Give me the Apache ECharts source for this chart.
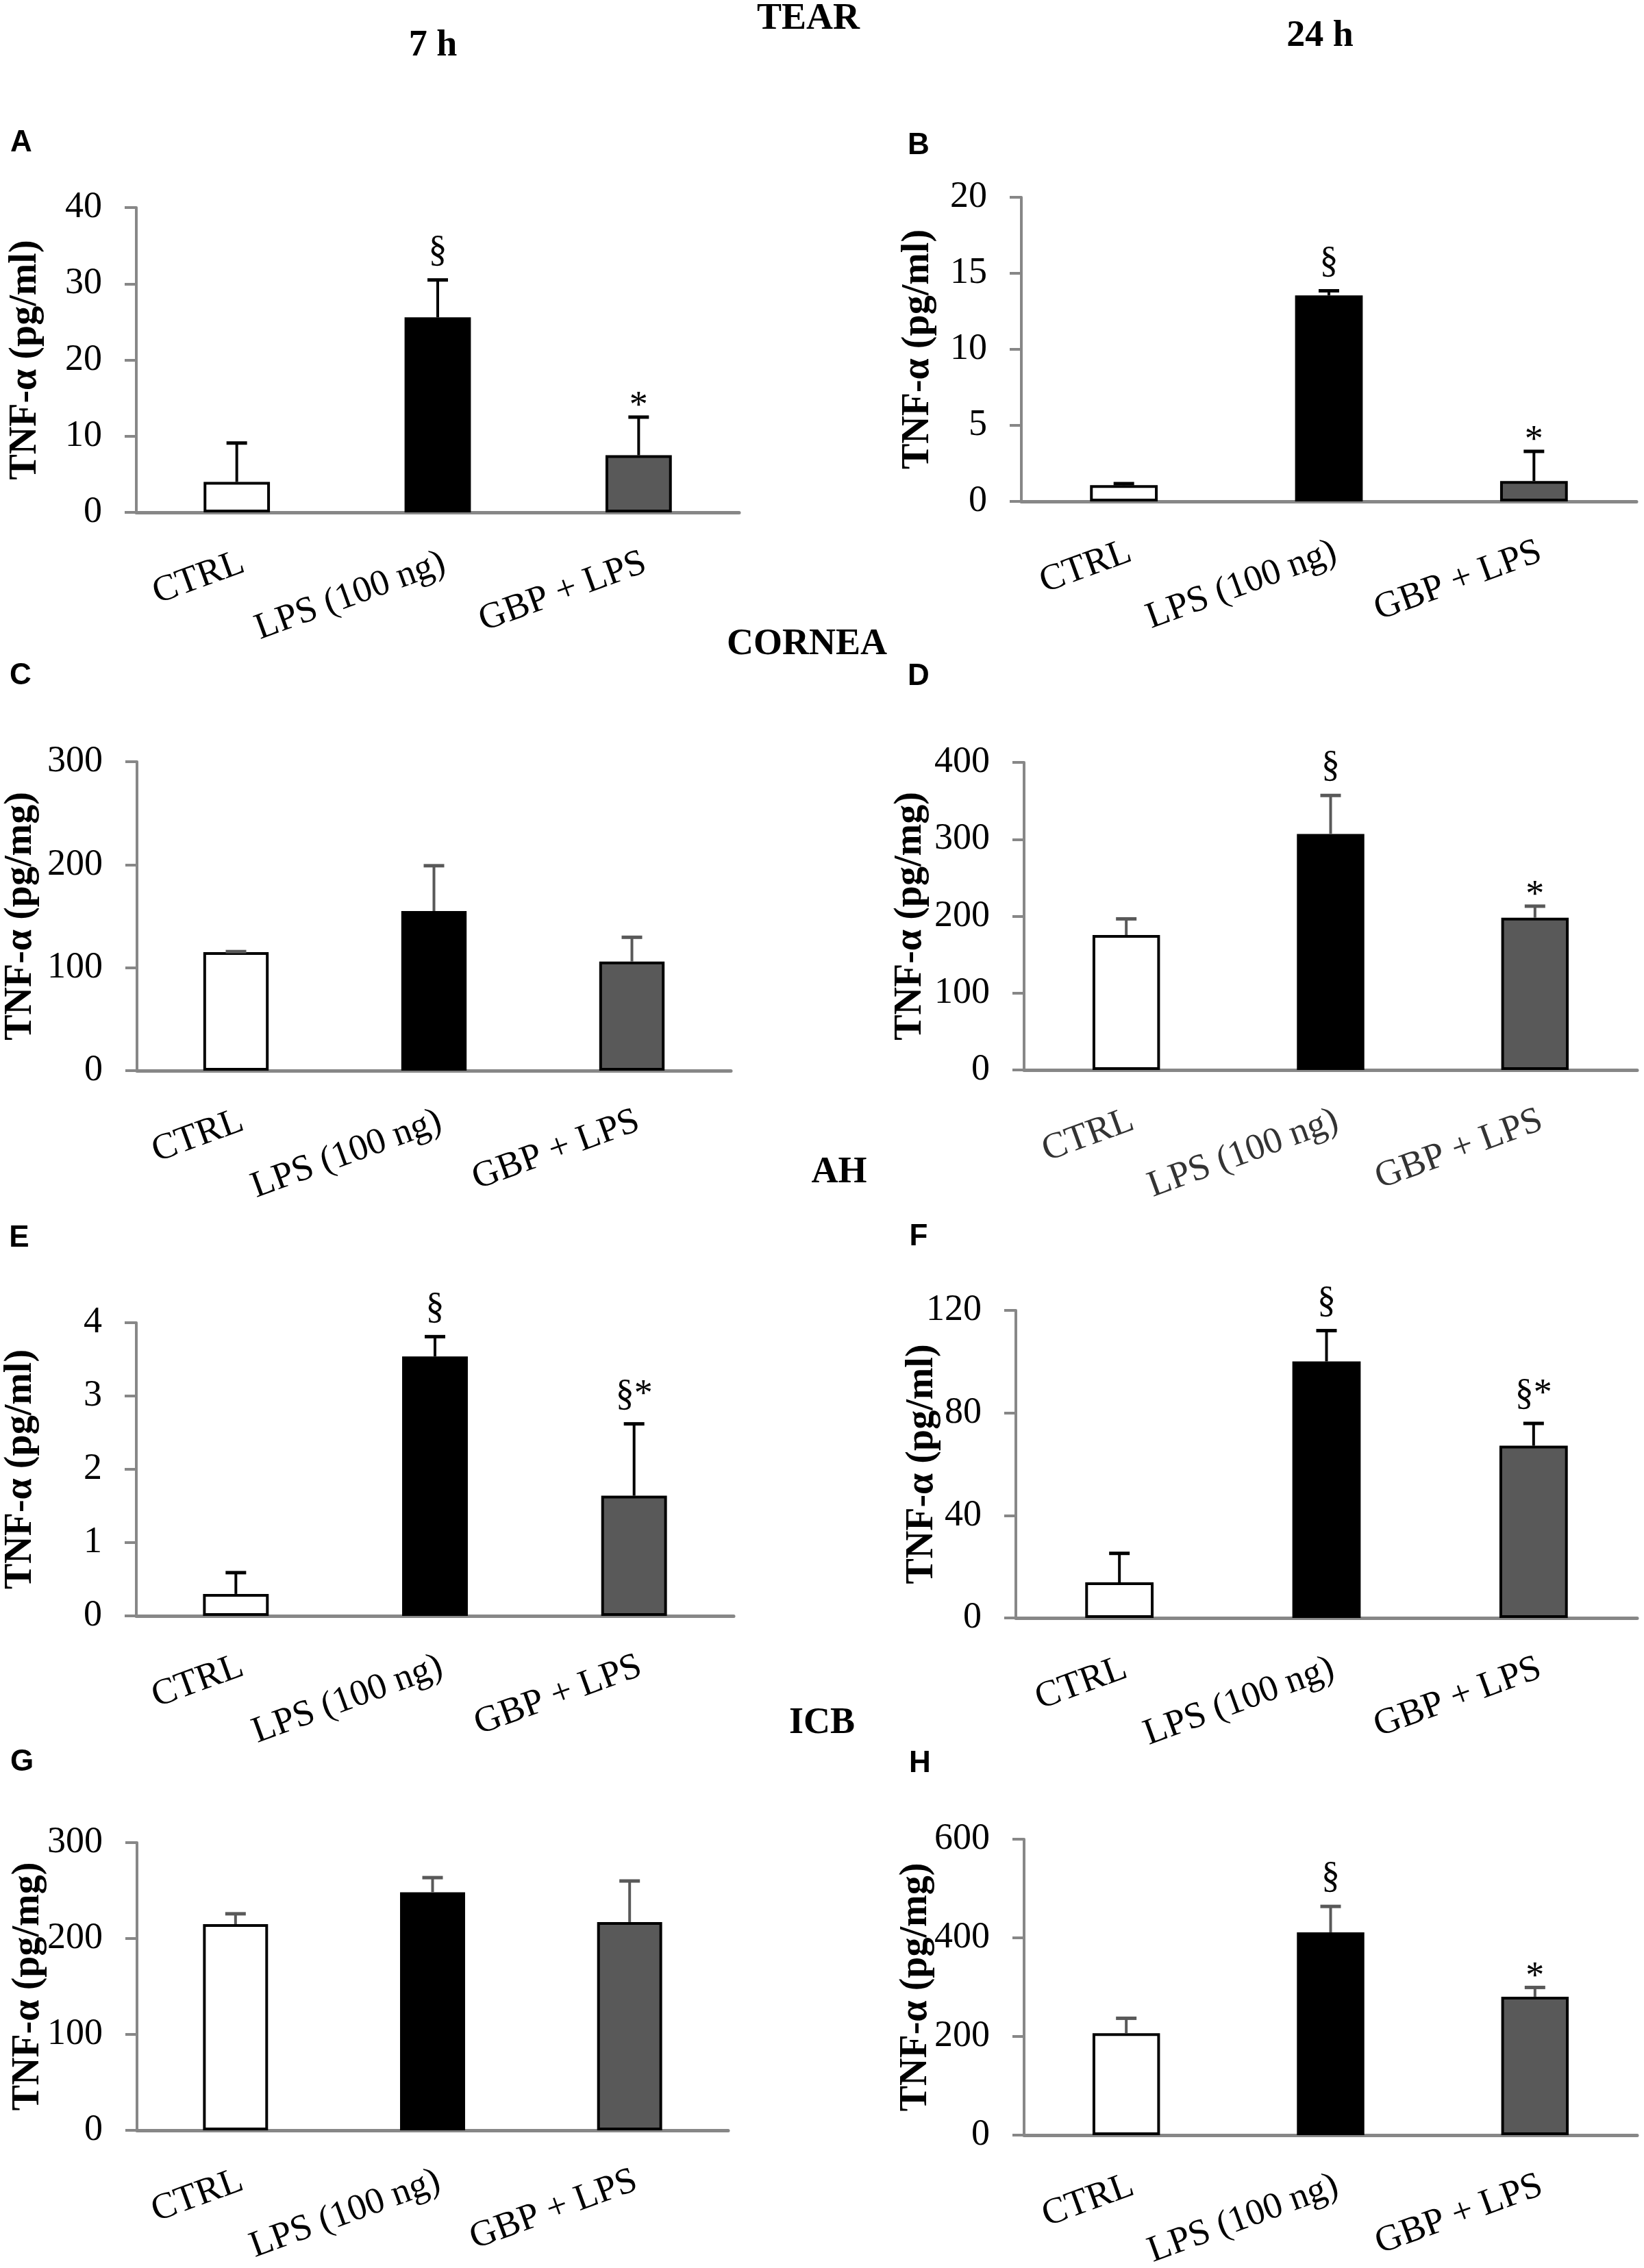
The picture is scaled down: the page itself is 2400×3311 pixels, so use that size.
<!DOCTYPE html>
<html>
<head>
<meta charset="utf-8">
<script src="https://cdn.jsdelivr.net/npm/echarts@6/dist/echarts.min.js"></script>
<style>
  html, body { margin: 0; padding: 0; background: #fff; }
  #chart { width: 2400px; height: 3311px; }
</style>
</head>
<body>
<div id="chart"></div>
<script>
  var groups = ['CTRL', 'LPS (100 ng)', 'GBP + LPS']

  // TEAR
  var tear7hMean = [4.0, 25.6, 7.5]
  var tear7hSem = [5.1, 4.9, 5.0]
  var tear7hMarks = ['', '§', '*']
  var tear7hTicks = [0, 10, 20, 30, 40]

  var tear24hMean = [1.07, 13.55, 1.34]
  var tear24hSem = [0.1, 0.3, 1.95]
  var tear24hMarks = ['', '§', '*']
  var tear24hTicks = [0, 5, 10, 15, 20]

  // CORNEA
  var cornea7hMean = [115, 155, 106]
  var cornea7hSem = [0.6, 44, 23.5]
  var cornea7hMarks = ['', '', '']
  var cornea7hTicks = [0, 100, 200, 300]

  var cornea24hMean = [175.5, 307, 198]
  var cornea24hSem = [21, 50, 15]
  var cornea24hMarks = ['', '§', '*']
  var cornea24hTicks = [0, 100, 200, 300, 400]

  // AH
  var ah7hMean = [0.3, 3.54, 1.64]
  var ah7hSem = [0.29, 0.27, 0.98]
  var ah7hMarks = ['', '§', '§*']
  var ah7hTicks = [0, 1, 2, 3, 4]

  var ah24hMean = [13.9, 100.1, 67.2]
  var ah24hSem = [11.3, 12, 8.7]
  var ah24hMarks = ['', '§', '§*']
  var ah24hTicks = [0, 40, 80, 120]

  // ICB
  var icb7hMean = [215, 248.3, 217.2]
  var icb7hSem = [10.8, 15.2, 42.8]
  var icb7hMarks = ['', '', '']
  var icb7hTicks = [0, 100, 200, 300]

  var icb24hMean = [206.7, 411, 280.7]
  var icb24hSem = [30.2, 52.7, 18.7]
  var icb24hMarks = ['', '§', '*']
  var icb24hTicks = [0, 200, 400, 600]

  var SERIF = '"Liberation Serif", "Times New Roman", serif'
  var SANS = '"Liberation Sans", Arial, sans-serif'
  var AXIS_GREY = '#878787'
  var barColors = ['#ffffff', '#000000', '#595959']

  var panels = [
    { mean: tear7hMean, sem: tear7hSem, marks: tear7hMarks, ticks: tear7hTicks, unit: 'TNF-α (pg/ml)',
      left: 199, top: 303, width: 880, height: 445, nameGap: 133, errColor: '#000', labelColor: '#000' },
    { mean: tear24hMean, sem: tear24hSem, marks: tear24hMarks, ticks: tear24hTicks, unit: 'TNF-α (pg/ml)',
      left: 1491, top: 288, width: 898, height: 444, nameGap: 122, errColor: '#000', labelColor: '#000' },
    { mean: cornea7hMean, sem: cornea7hSem, marks: cornea7hMarks, ticks: cornea7hTicks, unit: 'TNF-α (pg/mg)',
      left: 200, top: 1112, width: 867, height: 451, nameGap: 141, errColor: '#595959', labelColor: '#000' },
    { mean: cornea24hMean, sem: cornea24hSem, marks: cornea24hMarks, ticks: cornea24hTicks, unit: 'TNF-α (pg/mg)',
      left: 1495, top: 1113, width: 895, height: 449, nameGap: 137, errColor: '#595959', labelColor: '#333' },
    { mean: ah7hMean, sem: ah7hSem, marks: ah7hMarks, ticks: ah7hTicks, unit: 'TNF-α (pg/ml)',
      left: 199, top: 1931, width: 872, height: 428, nameGap: 140, errColor: '#000', labelColor: '#000' },
    { mean: ah24hMean, sem: ah24hSem, marks: ah24hMarks, ticks: ah24hTicks, unit: 'TNF-α (pg/ml)',
      left: 1483, top: 1913, width: 907, height: 449, nameGap: 108, errColor: '#000', labelColor: '#000' },
    { mean: icb7hMean, sem: icb7hSem, marks: icb7hMarks, ticks: icb7hTicks, unit: 'TNF-α (pg/mg)',
      left: 200, top: 2690, width: 863, height: 420, nameGap: 130, errColor: '#595959', labelColor: '#000' },
    { mean: icb24hMean, sem: icb24hSem, marks: icb24hMarks, ticks: icb24hTicks, unit: 'TNF-α (pg/mg)',
      left: 1495, top: 2685, width: 895, height: 432, nameGap: 129, errColor: '#595959', labelColor: '#000' }
  ]

  // section titles and panel letters
  var headings = [
    { text: 'TEAR', x: 1180, y: 28, font: 'bold 54px ' + SERIF },
    { text: '7 h', x: 632, y: 67, font: 'bold 54px ' + SERIF },
    { text: '24 h', x: 1927, y: 53, font: 'bold 54px ' + SERIF },
    { text: 'CORNEA', x: 1178, y: 941, font: 'bold 54px ' + SERIF },
    { text: 'AH', x: 1225, y: 1712, font: 'bold 54px ' + SERIF },
    { text: 'ICB', x: 1200, y: 2516, font: 'bold 54px ' + SERIF },
    { text: 'A', x: 31, y: 209, font: 'bold 44px ' + SANS },
    { text: 'B', x: 1341, y: 213, font: 'bold 44px ' + SANS },
    { text: 'C', x: 30, y: 987, font: 'bold 44px ' + SANS },
    { text: 'D', x: 1341, y: 988, font: 'bold 44px ' + SANS },
    { text: 'E', x: 28, y: 1808, font: 'bold 44px ' + SANS },
    { text: 'F', x: 1341, y: 1806, font: 'bold 44px ' + SANS },
    { text: 'G', x: 32, y: 2573, font: 'bold 44px ' + SANS },
    { text: 'H', x: 1343, y: 2575, font: 'bold 44px ' + SANS }
  ]

  var errorRenderer = function (marks, color) {
    return function (params, api) {
      var i = api.value(0)
      var base = api.coord([i, api.value(1)])
      var tip = api.coord([i, api.value(2)])
      var children = [
        { type: 'line', shape: { x1: base[0], y1: base[1], x2: tip[0], y2: tip[1] }, style: { stroke: color, lineWidth: 4 } },
        { type: 'line', shape: { x1: tip[0] - 15, y1: tip[1], x2: tip[0] + 15, y2: tip[1] }, style: { stroke: color, lineWidth: 5 } }
      ]
      var mark = marks[params.dataIndex]
      if (mark) {
        children.push({
          type: 'text',
          x: tip[0],
          y: tip[1] - (mark === '*' ? 15 : 42),
          style: { text: mark, font: '54px ' + SERIF, fill: '#000', align: 'center', verticalAlign: 'middle' }
        })
      }
      return { type: 'group', children: children }
    }
  }

  var grid = [], xAxis = [], yAxis = [], series = []

  panels.forEach(function (p, k) {
    grid.push({ left: p.left, top: p.top, width: p.width, height: p.height, containLabel: false, outerBoundsMode: 'none' })

    xAxis.push({
      type: 'category',
      gridIndex: k,
      data: groups,
      axisTick: { show: false },
      axisLine: { lineStyle: { color: AXIS_GREY, width: 5 } },
      axisLabel: {
        interval: 0,
        rotate: 20,
        align: 'right',
        verticalAlign: 'top',
        margin: 47,
        fontFamily: SERIF,
        fontSize: 54,
        color: p.labelColor
      }
    })

    yAxis.push({
      type: 'value',
      gridIndex: k,
      min: p.ticks[0],
      max: p.ticks[p.ticks.length - 1],
      interval: p.ticks[1] - p.ticks[0],
      name: p.unit,
      nameLocation: 'middle',
      nameRotate: 90,
      nameGap: p.nameGap,
      nameMoveOverlap: false,
      nameTextStyle: { fontFamily: SERIF, fontWeight: 'bold', fontSize: 56, color: '#000' },
      splitLine: { show: false },
      axisLine: { show: true, lineStyle: { color: AXIS_GREY, width: 4 } },
      axisTick: { show: true, length: 17, lineStyle: { color: AXIS_GREY, width: 4 } },
      axisLabel: { margin: 50, fontFamily: SERIF, fontSize: 54, color: '#000' }
    })

    series.push({
      type: 'bar',
      xAxisIndex: k,
      yAxisIndex: k,
      barWidth: '33%',
      silent: true,
      data: p.mean.map(function (v, i) {
        return { value: v, itemStyle: { color: barColors[i], borderColor: '#000', borderWidth: 4 } }
      })
    })

    series.push({
      type: 'custom',
      xAxisIndex: k,
      yAxisIndex: k,
      silent: true,
      z: 5,
      renderItem: errorRenderer(p.marks, p.errColor),
      encode: { x: 0, y: [1, 2] },
      data: p.mean.map(function (v, i) {
        return [i, v, v + p.sem[i]]
      })
    })
  })

  var chart = echarts.init(document.getElementById('chart'), null, { renderer: 'canvas' })
  chart.setOption({
    backgroundColor: '#fff',
    animation: false,
    grid: grid,
    xAxis: xAxis,
    yAxis: yAxis,
    series: series,
    graphic: headings.map(function (h) {
      return {
        type: 'text',
        x: h.x,
        y: h.y,
        style: { text: h.text, font: h.font, fill: '#000', align: 'center', verticalAlign: 'middle' }
      }
    })
  })
</script>
</body>
</html>
